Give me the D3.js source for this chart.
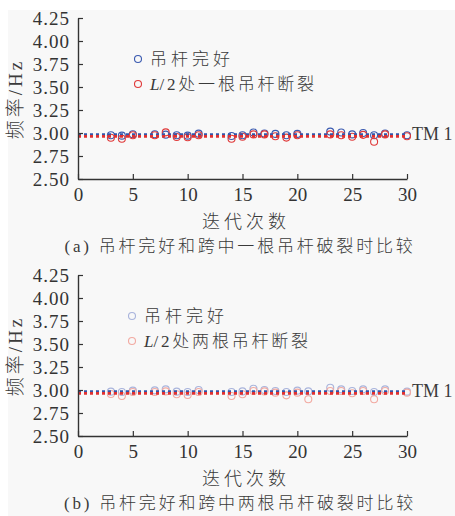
<!DOCTYPE html>
<html>
<head>
<meta charset="utf-8">
<script src="https://cdn.jsdelivr.net/npm/d3@7"></script>
<style>
  html, body { margin: 0; padding: 0; background: #ffffff; }
  svg { display: block; }
  .tick text { font-family: "Liberation Serif", "Noto Sans CJK SC", serif; font-size: 19px; fill: #333; }
  .lbl { font-family: "Liberation Serif", "Noto Sans CJK SC", serif; fill: #3a3a3a; font-weight: 300; }
</style>
</head>
<body>
<svg id="chart" width="455" height="516"></svg>
<script>
// Iteration numbers of the identified frequencies
const iterA = [3, 4, 5, 7, 8, 9, 10, 11, 14, 15, 16, 17, 18, 19, 20, 23, 24, 25, 26, 27, 28, 30];
const iterB = [3, 4, 5, 7, 8, 9, 10, 11, 14, 15, 16, 17, 18, 19, 20, 21, 23, 24, 25, 26, 27, 28, 30];

// (a) intact hangers vs. one hanger broken at L/2
const intactA = [2.975, 2.971, 2.986, 2.986, 2.982, 2.975, 2.971, 2.993, 2.967, 2.975, 3.005, 2.995, 2.990, 2.975, 2.990, 3.015, 3.005, 2.985, 3.000, 2.975, 2.995, 2.975];
const brokenA = [2.949, 2.938, 2.975, 2.975, 3.007, 2.957, 2.953, 2.975, 2.938, 2.960, 2.985, 2.985, 2.965, 2.950, 2.975, 2.985, 2.975, 2.960, 2.980, 2.905, 2.985, 2.965];

// (b) intact hangers vs. two hangers broken at L/2
const intactB = [2.982, 2.978, 2.993, 2.996, 3.007, 2.982, 2.978, 3.000, 2.978, 2.985, 3.014, 3.000, 2.989, 2.978, 2.993, 2.985, 3.025, 3.007, 2.989, 3.007, 2.978, 3.007, 2.982];
const brokenB = [2.957, 2.935, 2.978, 2.978, 2.985, 2.953, 2.946, 2.978, 2.935, 2.953, 2.989, 2.985, 2.971, 2.942, 2.971, 2.899, 2.989, 2.989, 2.964, 2.989, 2.899, 2.989, 2.971];

// Reference frequency of mode TM 1
const refIntact = [2.983];
const refBroken = [2.963];

const xTicks = [0, 5, 10, 15, 20, 25, 30];
const yTicks = [2.50, 2.75, 3.00, 3.25, 3.50, 3.75, 4.00, 4.25];

const svg = d3.select("#chart");
svg.append("rect").attr("x", 8).attr("y", 10).attr("width", 447).attr("height", 506).attr("fill", "#f8f8f8");

function panel(cfg) {
  const x = d3.scaleLinear().domain([0, 30]).range([78, 407]);
  const y = d3.scaleLinear().domain([2.5, 4.25]).range([cfg.bottom, cfg.bottom - 161]);
  const g = svg.append("g");

  // markers
  g.selectAll("circle.intact").data(cfg.iter.map((d, i) => [d, cfg.intact[i]]))
    .join("circle").attr("class", "intact")
    .attr("cx", d => x(d[0])).attr("cy", d => y(d[1])).attr("r", 3.5)
    .attr("fill", "none").attr("stroke", cfg.cIntact).attr("stroke-width", 1.1);
  g.selectAll("circle.broken").data(cfg.iter.map((d, i) => [d, cfg.broken[i]]))
    .join("circle").attr("class", "broken")
    .attr("cx", d => x(d[0])).attr("cy", d => y(d[1])).attr("r", 3.5)
    .attr("fill", "none").attr("stroke", cfg.cBroken).attr("stroke-width", 1.1);

  // dotted reference lines
  [[refIntact[0], "#3355aa"], [refBroken[0], "#e03030"]].forEach(([v, c]) => {
    g.append("line").attr("x1", x(0)).attr("x2", x(30)).attr("y1", y(v)).attr("y2", y(v))
      .attr("stroke", c).attr("stroke-width", 2.6).attr("stroke-dasharray", "3,3");
  });

  g.append("text").attr("class", "lbl").attr("x", 412).attr("y", y(3.0) + 7)
    .attr("font-size", 18).text("TM 1");

  // axes
  const ax = g.append("g").attr("transform", `translate(0,${cfg.bottom})`)
    .call(d3.axisBottom(x).tickValues(xTicks).tickSize(-5).tickSizeOuter(0).tickPadding(9).tickFormat(d3.format("d")));
  const ay = g.append("g").attr("transform", "translate(78,0)")
    .call(d3.axisLeft(y).tickValues(yTicks).tickSize(-5).tickSizeOuter(0).tickPadding(8).tickFormat(d3.format(".2f")));
  [ax, ay].forEach(a => {
    a.select(".domain").attr("stroke", "#333").attr("stroke-width", 1.4);
    a.selectAll(".tick line").attr("stroke", "#333").attr("stroke-width", 1.2);
  });
  ay.selectAll(".tick text").attr("letter-spacing", "1px");

  // axis titles
  g.append("text").attr("class", "lbl").attr("font-size", 18).attr("letter-spacing", "4px")
    .attr("text-anchor", "middle").attr("x", 246).attr("y", cfg.bottom + 49).text("迭代次数");
  g.append("text").attr("class", "lbl").attr("font-size", 19).attr("letter-spacing", "3px")
    .attr("text-anchor", "middle")
    .attr("transform", `translate(22,${cfg.bottom - 80}) rotate(-90)`).text("频率/Hz");

  // caption
  g.append("text").attr("class", "lbl").attr("font-size", 17).attr("letter-spacing", "2.8px")
    .attr("text-anchor", "middle").attr("x", 240).attr("y", cfg.bottom + 73).text(cfg.caption);

  // legend
  const lg = g.append("g");
  lg.append("circle").attr("cx", cfg.legX).attr("cy", cfg.bottom - 120).attr("r", 3.5)
    .attr("fill", "none").attr("stroke", cfg.cIntact).attr("stroke-width", 1.1);
  lg.append("circle").attr("cx", cfg.legX).attr("cy", cfg.bottom - 95).attr("r", 3.5)
    .attr("fill", "none").attr("stroke", cfg.cBroken).attr("stroke-width", 1.1);
  lg.append("text").attr("class", "lbl").attr("font-size", 17).attr("letter-spacing", "4px")
    .attr("x", cfg.legX + 12).attr("y", cfg.bottom - 114).text("吊杆完好");
  const t2 = lg.append("text").attr("class", "lbl").attr("font-size", 17).attr("letter-spacing", "2.8px")
    .attr("x", cfg.legX + 12).attr("y", cfg.bottom - 89);
  t2.append("tspan").attr("font-style", "italic").attr("letter-spacing", "0px").text("L");
  t2.append("tspan").text(cfg.legend2);
}

panel({
  bottom: 179, iter: iterA, intact: intactA, broken: brokenA,
  cIntact: "#3a5ab0", cBroken: "#e03a3a", legX: 138,
  legend2: "/2处一根吊杆断裂",
  caption: "(a) 吊杆完好和跨中一根吊杆破裂时比较"
});
panel({
  bottom: 436, iter: iterB, intact: intactB, broken: brokenB,
  cIntact: "#a9b4dc", cBroken: "#f2aaa2", legX: 132,
  legend2: "/2处两根吊杆断裂",
  caption: "(b) 吊杆完好和跨中两根吊杆破裂时比较"
});
</script>
</body>
</html>
